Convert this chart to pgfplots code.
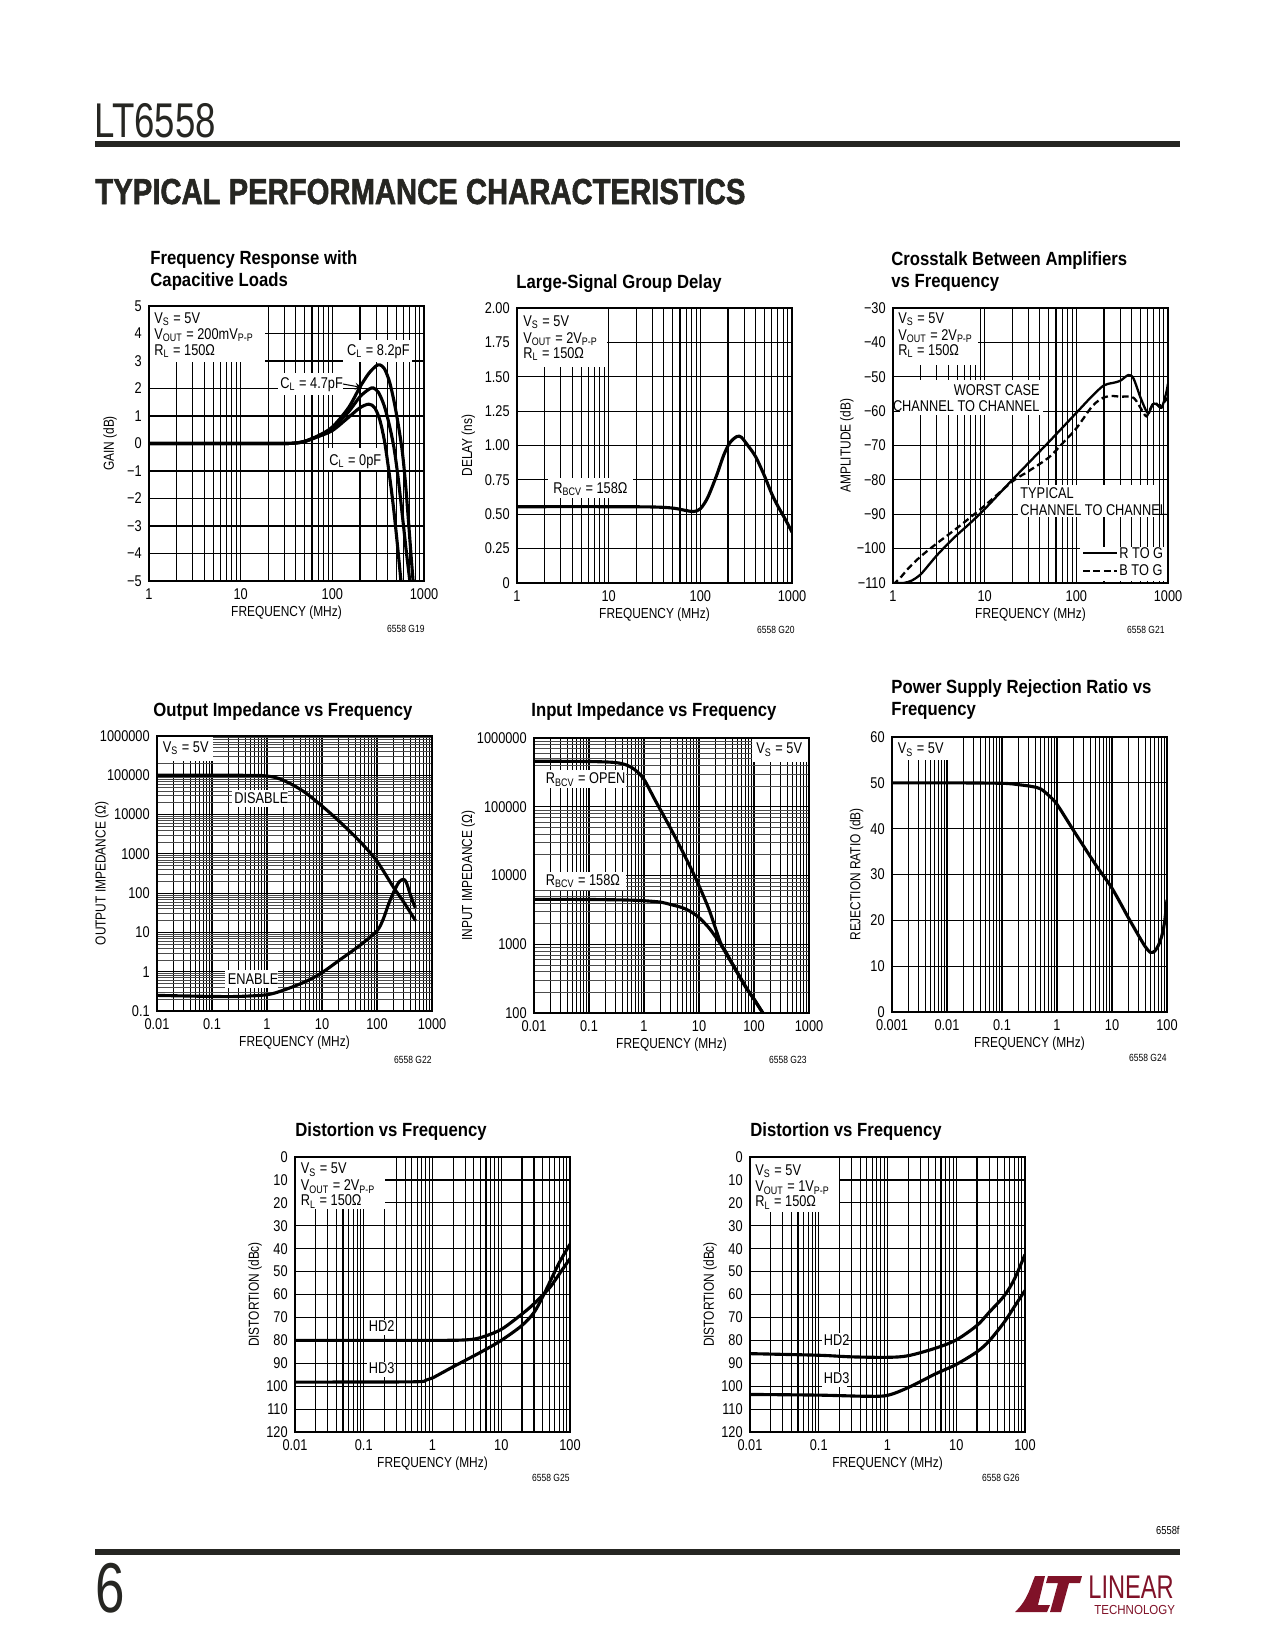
\documentclass[border=0pt]{standalone}
\usepackage{fontspec}
\setmainfont{Liberation Sans}[FakeStretch=0.82]
\newfontfamily\titlefont{Liberation Sans}[FakeStretch=0.875]
\newfontfamily\headfont{Liberation Sans Bold}[FakeStretch=0.81, FakeBold=1.5]
\newfontfamily\thinfont{Liberation Sans}[FakeStretch=0.75]
\newfontfamily\logofont{Liberation Sans}[FakeStretch=0.72]
\newfontfamily\logosmall{Liberation Sans}[FakeStretch=0.88]
\usepackage{pgfplots}
\pgfplotsset{compat=1.18}
\definecolor{ltred}{RGB}{128,18,40}
\definecolor{barc}{RGB}{38,38,34}
\newcommand{\tk}{\fontsize{7.5}{9}\selectfont}
\newcommand{\lb}{\fontsize{7}{8}\selectfont}
\newcommand{\sm}{\fontsize{5}{6}\selectfont}
\newcommand{\ttl}{\titlefont\bfseries\fontsize{9.2}{11}\selectfont}
\newcommand{\sub}[1]{\textsubscript{#1}}
\pgfplotsset{
 ds/.style={
  scale only axis, width=132bp, height=132bp, anchor=north west,
  axis line style={line width=1bp},
  grid=both,
  major grid style={line width=0.55bp, black},
  minor grid style={line width=0.55bp, black},
  major tick length=0pt, minor tick length=0pt,
  tick label style={font=\tk},
  xlabel={FREQUENCY (MHz)},
  every axis x label/.style={at={([yshift=-15.1bp]axis description cs:0.5,0)}, anchor=center, font=\lb},
  cycle list={{black}},
  every axis plot/.append style={line width=1.5bp, no marks, smooth},
  every axis plot post/.append style={black},
 },
 logygrid/.style={
  minor y grid style={line width=0.35bp, black!70},
  major y grid style={line width=0.45bp, black},
 },
 yl/.style={every axis y label/.style={at={([xshift=-#1]axis description cs:0,0.5)}, anchor=center, rotate=90, font=\lb}},
}
\begin{document}
\begin{tikzpicture}
\begin{scope}[x=0.48bp,y=-0.48bp]
\fill[white] (0,0) rectangle (1275,1650);
\end{scope}

% ---------- Chart 1 ----------
\begin{axis}[ds, xmode=log, at={({149*0.48bp},{-306*0.48bp})}, yl=18.7bp,
 xmin=1, xmax=1000, ymin=-5, ymax=5,
 xtick={1,10,100,1000}, xticklabels={1,10,100,1000},
 minor xtick={2,3,4,5,6,7,8,9,20,30,40,50,60,70,80,90,200,300,400,500,600,700,800,900},
 ytick={-5,-4,-3,-2,-1,0,1,2,3,4,5}, yticklabels={−5,−4,−3,−2,−1,0,1,2,3,4,5},
 ylabel={GAIN (dB)}]
\addplot coordinates {(1,0)(10,0)(30,0)(40,0.02)(50,0.07)(70,0.25)(100,0.47)(150,0.95)(200,1.3)(250,1.43)(290,1.3)(330,0.85)(370,0.1)(410,-0.9)(460,-2.2)(510,-3.6)(560,-5)(580,-5.6)};
\addplot coordinates {(1,0)(10,0)(30,0)(40,0.02)(50,0.08)(70,0.27)(100,0.55)(150,1.15)(200,1.7)(250,1.97)(280,2.02)(320,1.85)(370,1.35)(420,0.65)(470,-0.15)(520,-1.2)(580,-2.6)(640,-3.9)(700,-5)(720,-5.5)};
\addplot coordinates {(1,0)(10,0)(30,0)(40,0.02)(50,0.08)(70,0.28)(100,0.6)(150,1.3)(200,2.05)(250,2.55)(300,2.82)(330,2.86)(370,2.72)(420,2.25)(470,1.55)(520,0.75)(580,-0.3)(630,-1.5)(680,-2.9)(720,-4)(760,-5)(780,-5.5)};
\end{axis}

% ---------- Chart 2 ----------
\begin{axis}[ds, xmode=log, at={({517*0.48bp},{-308*0.48bp})}, yl=23.4bp,
 xmin=1, xmax=1000, ymin=0, ymax=2,
 xtick={1,10,100,1000}, xticklabels={1,10,100,1000},
 minor xtick={2,3,4,5,6,7,8,9,20,30,40,50,60,70,80,90,200,300,400,500,600,700,800,900},
 ytick={0,0.25,0.5,0.75,1,1.25,1.5,1.75,2}, yticklabels={0,0.25,0.50,0.75,1.00,1.25,1.50,1.75,2.00},
 ylabel={DELAY (ns)}]
\addplot coordinates {(1,0.555)(10,0.555)(30,0.553)(50,0.545)(70,0.527)(85,0.52)(100,0.54)(120,0.62)(150,0.78)(180,0.93)(210,1.02)(250,1.065)(280,1.06)(330,1.0)(400,0.92)(500,0.78)(600,0.65)(700,0.56)(850,0.46)(1000,0.37)};
\end{axis}

% ---------- Chart 3 ----------
\begin{axis}[ds, xmode=log, at={({893*0.48bp},{-308*0.48bp})}, yl=22.2bp,
 xmin=1, xmax=1000, ymin=-110, ymax=-30,
 xtick={1,10,100,1000}, xticklabels={1,10,100,1000},
 minor xtick={2,3,4,5,6,7,8,9,20,30,40,50,60,70,80,90,200,300,400,500,600,700,800,900},
 ytick={-110,-100,-90,-80,-70,-60,-50,-40,-30}, yticklabels={−110,−100,−90,−80,−70,−60,−50,−40,−30},
 ylabel={AMPLITUDE (dB)},
 every axis plot/.append style={line width=1.1bp}]
\addplot coordinates {(1,-110)(1.3,-110)(1.6,-109.3)(2,-107.5)(2.5,-104.5)(3,-102)(4,-98.5)(5,-96)(7,-92.5)(10,-88.5)(20,-80)(50,-69)(100,-60.5)(150,-55.5)(200,-52.5)(250,-51.8)(300,-51.2)(370,-49.5)(420,-50.5)(500,-56)(580,-60)(620,-60.5)(680,-58)(750,-58)(850,-59)(950,-55)(1000,-52)};
\addplot[dash pattern=on 3.2bp off 1.8bp] coordinates {(1,-110.5)(1.2,-108.5)(1.5,-105.5)(2,-102.3)(3,-98.5)(5,-94)(10,-87.5)(20,-80.5)(30,-77.5)(50,-73.5)(70,-69.5)(100,-65)(150,-58.5)(200,-56)(250,-55.6)(300,-55.8)(400,-55.8)(450,-57)(500,-59)(580,-61.5)(650,-59)(720,-57.5)(800,-58.5)(900,-57.5)(1000,-56)};
\end{axis}

% ---------- Chart 4 ----------
\begin{axis}[ds, logygrid, xmode=log, ymode=log, at={({157*0.48bp},{-736*0.48bp})}, yl=26.5bp,
 xmin=0.01, xmax=1000, ymin=0.1, ymax=1000000,
 xtick={0.01,0.1,1,10,100,1000}, xticklabels={0.01,0.1,1,10,100,1000},
 minor xtick={0.02,0.03,0.04,0.05,0.06,0.07,0.08,0.09,0.2,0.3,0.4,0.5,0.6,0.7,0.8,0.9,2,3,4,5,6,7,8,9,20,30,40,50,60,70,80,90,200,300,400,500,600,700,800,900},
 ytick={0.1,1,10,100,1000,10000,100000,1000000}, yticklabels={0.1,1,10,100,1000,10000,100000,1000000},
 minor ytick={0.2,0.3,0.4,0.5,0.6,0.7,0.8,0.9,2,3,4,5,6,7,8,9,20,30,40,50,60,70,80,90,200,300,400,500,600,700,800,900,2000,3000,4000,5000,6000,7000,8000,9000,20000,30000,40000,50000,60000,70000,80000,90000,200000,300000,400000,500000,600000,700000,800000,900000},
 ylabel={OUTPUT IMPEDANCE (Ω)}]
\addplot coordinates {(0.01,100000)(0.3,100000)(0.7,99000)(1,96000)(1.5,86000)(2,74000)(3,56000)(5,36000)(10,16500)(20,7000)(50,2000)(100,650)(200,140)(300,62)(500,20)};
\addplot coordinates {(0.01,0.25)(0.1,0.235)(0.3,0.235)(1,0.26)(2,0.34)(5,0.56)(10,0.95)(20,1.9)(50,4.8)(100,11)(130,22)(160,50)(200,105)(250,190)(300,225)(340,190)(400,95)(450,60)(500,42)};
\end{axis}

% ---------- Chart 5 ----------
\begin{axis}[ds, logygrid, xmode=log, ymode=log, at={({534*0.48bp},{-738*0.48bp})}, yl=31.5bp,
 xmin=0.01, xmax=1000, ymin=100, ymax=1000000,
 xtick={0.01,0.1,1,10,100,1000}, xticklabels={0.01,0.1,1,10,100,1000},
 minor xtick={0.02,0.03,0.04,0.05,0.06,0.07,0.08,0.09,0.2,0.3,0.4,0.5,0.6,0.7,0.8,0.9,2,3,4,5,6,7,8,9,20,30,40,50,60,70,80,90,200,300,400,500,600,700,800,900},
 ytick={100,1000,10000,100000,1000000}, yticklabels={100,1000,10000,100000,1000000},
 minor ytick={200,300,400,500,600,700,800,900,2000,3000,4000,5000,6000,7000,8000,9000,20000,30000,40000,50000,60000,70000,80000,90000,200000,300000,400000,500000,600000,700000,800000,900000},
 ylabel={INPUT IMPEDANCE (Ω)}]
\addplot coordinates {(0.01,460000)(0.1,455000)(0.3,440000)(0.5,400000)(0.7,340000)(1,250000)(1.6,124000)(3.2,45000)(6.5,14800)(10,7100)(15,3300)(20,1700)(26,950)(40,520)(70,240)(100,160)(145,100)(155,92)};
\addplot coordinates {(0.01,4500)(0.1,4480)(0.5,4400)(1,4300)(2,4100)(3,3800)(5,3400)(7,3000)(10,2450)(15,1750)(20,1280)(30,800)(40,530)(70,245)(100,158)(145,100)(155,92)};
\end{axis}

% ---------- Chart 6 ----------
\begin{axis}[ds, xmode=log, at={({892*0.48bp},{-737*0.48bp})}, yl=17bp,
 xmin=0.001, xmax=100, ymin=0, ymax=60,
 xtick={0.001,0.01,0.1,1,10,100}, xticklabels={0.001,0.01,0.1,1,10,100},
 minor xtick={0.002,0.003,0.004,0.005,0.006,0.007,0.008,0.009,0.02,0.03,0.04,0.05,0.06,0.07,0.08,0.09,0.2,0.3,0.4,0.5,0.6,0.7,0.8,0.9,2,3,4,5,6,7,8,9,20,30,40,50,60,70,80,90},
 ytick={0,10,20,30,40,50,60}, yticklabels={0,10,20,30,40,50,60},
 ylabel={REJECTION RATIO (dB)}]
\addplot coordinates {(0.001,50)(0.01,50)(0.1,49.9)(0.2,49.6)(0.35,49.2)(0.5,48.7)(0.7,47.3)(1,45.3)(2,39.6)(5,32.2)(10,27)(20,20.5)(30,16.8)(40,14.3)(50,13.0)(60,13.3)(70,14.6)(80,16.5)(90,19.5)(100,24.5)};
\end{axis}

% ---------- Chart 7 ----------
\begin{axis}[ds, xmode=log, y dir=reverse, at={({295*0.48bp},{-1157*0.48bp})}, yl=19.2bp,
 xmin=0.01, xmax=100, ymin=0, ymax=120,
 xtick={0.01,0.1,1,10,100}, xticklabels={0.01,0.1,1,10,100},
 minor xtick={0.02,0.03,0.04,0.05,0.06,0.07,0.08,0.09,0.2,0.3,0.4,0.5,0.6,0.7,0.8,0.9,2,3,4,5,6,7,8,9,20,30,40,50,60,70,80,90},
 ytick={0,10,20,30,40,50,60,70,80,90,100,110,120}, yticklabels={0,10,20,30,40,50,60,70,80,90,100,110,120},
 ylabel={DISTORTION (dBc)}]
\addplot coordinates {(0.01,80)(1,80)(3,79.8)(5,78.8)(10,75.2)(20,68.5)(30,64)(50,57.2)(70,51)(100,44.3)};
\addplot coordinates {(0.01,98.2)(0.5,98.1)(0.8,97.4)(1,96.4)(2,91.5)(5,85.2)(10,80)(20,73.5)(30,67.8)(40,61)(50,55)(70,46)(100,38)};
\end{axis}

% ---------- Chart 8 ----------
\begin{axis}[ds, xmode=log, y dir=reverse, at={({750*0.48bp},{-1157*0.48bp})}, yl=19.2bp,
 xmin=0.01, xmax=100, ymin=0, ymax=120,
 xtick={0.01,0.1,1,10,100}, xticklabels={0.01,0.1,1,10,100},
 minor xtick={0.02,0.03,0.04,0.05,0.06,0.07,0.08,0.09,0.2,0.3,0.4,0.5,0.6,0.7,0.8,0.9,2,3,4,5,6,7,8,9,20,30,40,50,60,70,80,90},
 ytick={0,10,20,30,40,50,60,70,80,90,100,110,120}, yticklabels={0,10,20,30,40,50,60,70,80,90,100,110,120},
 ylabel={DISTORTION (dBc)}]
\addplot coordinates {(0.01,85.8)(0.1,86.5)(0.3,87.2)(1,87.4)(2,86.7)(5,83.4)(10,79.8)(20,73.5)(30,67.8)(50,60.5)(70,53.3)(100,42.5)};
\addplot coordinates {(0.01,103.6)(0.1,103.9)(0.5,104.4)(1,104)(2,100.6)(5,94.6)(10,90.5)(20,85)(30,80.3)(50,72)(70,65.3)(100,58.2)};
\end{axis}

% ---------- annotations, titles, page furniture ----------
\begin{scope}[x=0.48bp,y=-0.48bp,
  an/.style={anchor=base west, inner sep=0pt, font=\tk},
  anr/.style={anchor=base east, inner sep=0pt, font=\tk},
  tt/.style={anchor=base west, inner sep=0pt, font=\ttl},
  tag/.style={anchor=base east, inner sep=0pt, font=\sm}]
% chart 1
\fill[white] (149,306) rectangle (265,362);
\node[an] at (154,323) {V\sub{S} = 5V};
\node[an] at (154,339) {V\sub{OUT} = 200mV\sub{P-P}};
\node[an] at (154,355) {R\sub{L} = 150Ω};
\fill[white] (343,340) rectangle (412,362);
\node[anr] at (410,355) {C\sub{L} = 8.2pF};
\fill[white] (278,373) rectangle (343,395);
\node[an] at (280,388) {C\sub{L} = 4.7pF};
\draw[line width=0.5bp,-stealth] (343,384) -- (362,387.5);
\fill[white] (327,448) rectangle (380,470);
\node[an] at (329,465) {C\sub{L} = 0pF};
\draw[line width=1bp] (149,306) rectangle (424,581);
\node[tt] at (150,264) {Frequency Response with};
\node[tt] at (150,286) {Capacitive Loads};
\node[tag] at (425,632) {6558 G19};
% chart 2
\fill[white] (517,308) rectangle (607,367);
\node[an] at (523,326) {V\sub{S} = 5V};
\node[an] at (523,343) {V\sub{OUT} = 2V\sub{P-P}};
\node[an] at (523,358) {R\sub{L} = 150Ω};
\fill[white] (548,478) rectangle (633,498);
\node[an] at (553,493) {R\sub{BCV} = 158Ω};
\draw[line width=1bp] (517,308) rectangle (792,583);
\node[tt] at (516,288) {Large-Signal Group Delay};
\node[tag] at (795,633) {6558 G20};
% chart 3
\fill[white] (893,308) rectangle (978,365);
\node[an] at (898,323) {V\sub{S} = 5V};
\node[an] at (898,340) {V\sub{OUT} = 2V\sub{P-P}};
\node[an] at (898,355) {R\sub{L} = 150Ω};
\fill[white] (900,380) rectangle (1043,415);
\node[anr] at (1040,395) {WORST CASE};
\node[anr] at (1040,411.5) {CHANNEL TO CHANNEL};
\fill[white] (1018,485) rectangle (1159,517);
\node[an] at (1020,498) {TYPICAL};
\node[an] at (1020,515) {CHANNEL TO CHANNEL};
\fill[white] (1080,547) rectangle (1167,581);
\draw[line width=1.1bp] (1083,553) -- (1117,553);
\draw[line width=1.1bp, dash pattern=on 3.2bp off 1.8bp] (1083,571) -- (1117,571);
\node[an] at (1119,558) {R TO G};
\node[an] at (1119,575) {B TO G};
\draw[line width=1bp] (893,308) rectangle (1168,583);
\node[tt] at (891,265) {Crosstalk Between Amplifiers};
\node[tt] at (891,287) {vs Frequency};
\node[tag] at (1165,633) {6558 G21};
% chart 4
\fill[white] (157,736) rectangle (213,761);
\node[an] at (162.5,752) {V\sub{S} = 5V};
\fill[white] (231.5,790) rectangle (287.5,807);
\node[an] at (234,803) {DISABLE};
\fill[white] (225,970) rectangle (277.5,987.5);
\node[an] at (227.5,984) {ENABLE};
\draw[line width=1bp] (157,736) rectangle (432,1011);
\node[tt] at (153,716) {Output Impedance vs Frequency};
\node[tag] at (432,1063) {6558 G22};
% chart 5
\fill[white] (751.5,738) rectangle (808,762);
\node[an] at (756,753.5) {V\sub{S} = 5V};
\fill[white] (534,770) rectangle (625.5,787.5);
\node[an] at (545.5,783.5) {R\sub{BCV} = OPEN};
\fill[white] (534,871.5) rectangle (625.5,890);
\node[an] at (545.5,885) {R\sub{BCV} = 158Ω};
\draw[line width=1bp] (534,738) rectangle (809,1013);
\node[tt] at (531,716) {Input Impedance vs Frequency};
\node[tag] at (807,1063) {6558 G23};
% chart 6
\fill[white] (892,737) rectangle (947.5,760);
\node[an] at (897.5,753.5) {V\sub{S} = 5V};
\draw[line width=1bp] (892,737) rectangle (1167,1012);
\node[tt] at (891,693) {Power Supply Rejection Ratio vs};
\node[tt] at (891,715) {Frequency};
\node[tag] at (1167,1061) {6558 G24};
% chart 7
\fill[white] (295,1157) rectangle (385,1208.5);
\node[an] at (300.5,1173.5) {V\sub{S} = 5V};
\node[an] at (300.5,1190.5) {V\sub{OUT} = 2V\sub{P-P}};
\node[an] at (300.5,1205.5) {R\sub{L} = 150Ω};
\fill[white] (366.5,1320) rectangle (394,1335);
\node[an] at (368.5,1331.5) {HD2};
\fill[white] (366.5,1361.5) rectangle (394,1377);
\node[an] at (368.5,1373.5) {HD3};
\draw[line width=1bp] (295,1157) rectangle (570,1432);
\node[tt] at (295,1136) {Distortion vs Frequency};
\node[tag] at (570,1481) {6558 G25};
% chart 8
\fill[white] (750,1157) rectangle (838.5,1211.5);
\node[an] at (755,1175) {V\sub{S} = 5V};
\node[an] at (755,1191.5) {V\sub{OUT} = 1V\sub{P-P}};
\node[an] at (755,1206.5) {R\sub{L} = 150Ω};
\fill[white] (821.5,1333) rectangle (847,1348.5);
\node[an] at (823.5,1345) {HD2};
\fill[white] (821.5,1371.5) rectangle (847,1387);
\node[an] at (823.5,1383.5) {HD3};
\draw[line width=1bp] (750,1157) rectangle (1025,1432);
\node[tt] at (750,1136) {Distortion vs Frequency};
\node[tag] at (1020,1481) {6558 G26};
% header
\node[anchor=base west, inner sep=0pt, text=barc, font=\thinfont\fontsize{23.5}{24}\selectfont] at (94,137) {LT6558};
\fill[barc] (95,141) rectangle (1180,147);
\node[anchor=base west, inner sep=0pt, text=barc, font=\headfont\fontsize{17.4}{18}\selectfont] at (95,204) {TYPICAL PERFORMANCE CHARACTERISTICS};
% footer
\node[anchor=base east, inner sep=0pt, font=\fontsize{5.5}{6}\selectfont] at (1180,1534) {6558f};
\fill[barc] (95,1549) rectangle (1180,1555);
\node[anchor=base west, inner sep=0pt, text=barc, font=\thinfont\fontsize{34}{34}\selectfont] at (95,1612) {6};
\fill[ltred] (1015,1612) .. controls (1028,1600) and (1031,1585) .. (1035,1576) -- (1045,1576) -- (1038,1605) -- (1050,1605) -- (1047,1612) -- cycle;
\fill[ltred] (1048,1576) -- (1082,1576) -- (1080,1583) -- (1069,1583) -- (1061,1612) -- (1050,1612) -- (1058,1583) -- (1046,1583) -- cycle;
\node[anchor=base west, inner sep=0pt, text=ltred, font=\logofont\fontsize{15.8}{16}\selectfont] at (1088,1598) {LINEAR};
\node[anchor=base west, inner sep=0pt, text=ltred, font=\logosmall\fontsize{6.3}{7}\selectfont] at (1094,1614.5) {TECHNOLOGY};
\end{scope}
\end{tikzpicture}
\end{document}
